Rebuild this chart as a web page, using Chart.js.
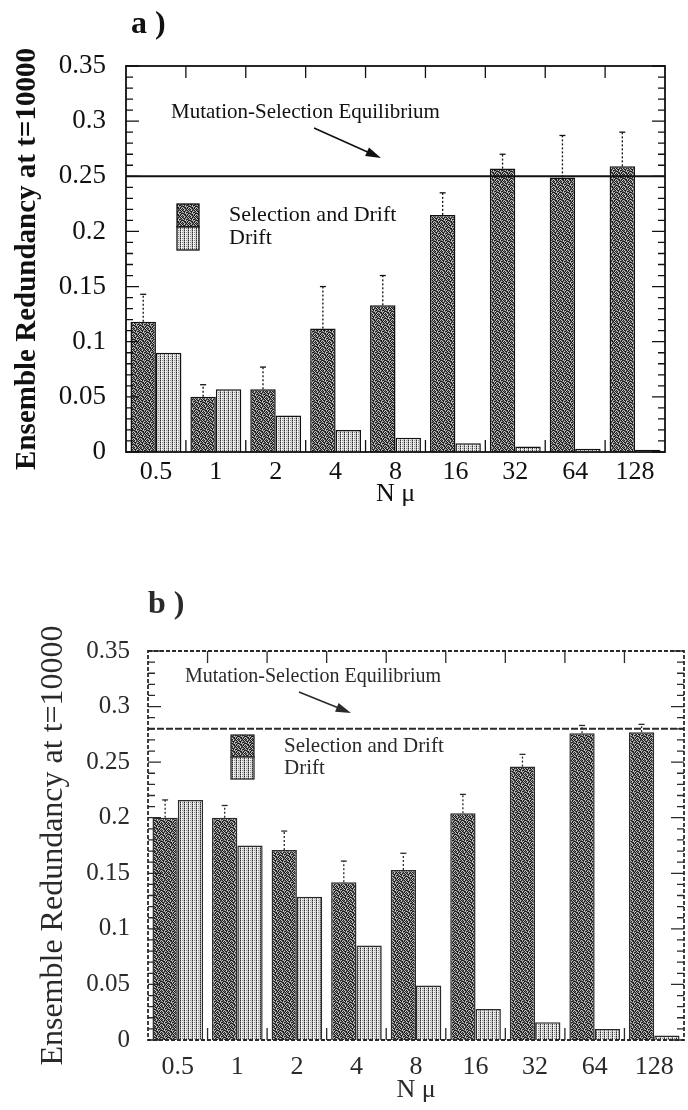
<!DOCTYPE html>
<html>
<head>
<meta charset="utf-8">
<script src="https://cdn.jsdelivr.net/npm/chart.js@4.4.1/dist/chart.umd.min.js"></script>
<style>
  html, body { margin: 0; padding: 0; background: #fff; }
  #wrap { position: relative; width: 688px; height: 1110px; overflow: hidden; }
  canvas { position: absolute; left: 0; }
  #chartA { top: 0; }
  #chartB { top: 530px; }
</style>
</head>
<body>
<div id="wrap">
  <canvas id="chartA" width="688" height="530"></canvas>
  <canvas id="chartB" width="688" height="580"></canvas>
</div>
<script>
const categories = ['0.5', '1', '2', '4', '8', '16', '32', '64', '128'];
const yTickValues = [0, 0.05, 0.1, 0.15, 0.2, 0.25, 0.3, 0.35];
const yTickLabels = ['0', '0.05', '0.1', '0.15', '0.2', '0.25', '0.3', '0.35'];
const seriesNames = ['Selection and Drift', 'Drift'];

// panel a
const selDriftA = [0.118, 0.050, 0.057, 0.112, 0.133, 0.215, 0.257, 0.249, 0.259];
const selDriftErrA = [0.143, 0.061, 0.077, 0.150, 0.160, 0.235, 0.270, 0.287, 0.290];
const driftA = [0.090, 0.057, 0.033, 0.020, 0.013, 0.008, 0.005, 0.003, 0.002];
const equilibriumA = 0.25;

// panel b
const selDriftB = [0.200, 0.200, 0.171, 0.142, 0.153, 0.204, 0.246, 0.276, 0.277];
const selDriftErrB = [0.216, 0.211, 0.188, 0.161, 0.168, 0.221, 0.257, 0.283, 0.284];
const driftB = [0.216, 0.175, 0.129, 0.085, 0.049, 0.028, 0.016, 0.010, 0.004];
const equilibriumB = 0.28;

const SERIF = "'Liberation Serif', 'DejaVu Serif', serif";

function makePattern(rows, colors) {
  const c = document.createElement('canvas');
  c.width = rows[0].length;
  c.height = rows.length;
  const g = c.getContext('2d');
  rows.forEach((r, yy) => [...r].forEach((ch, xx) => {
    g.fillStyle = colors[ch];
    g.fillRect(xx, yy, 1, 1);
  }));
  return g.createPattern(c, 'repeat');
}

// speckled dark fill and dotted light fill, like the printed screens
const darkFill = makePattern([
  'kgwkgkw',
  'wkkgwgk',
  'gwkwkkg',
  'kkgwgwk',
  'wgkkwkg',
  'kwgkgkw',
  'gkwgkwk'
], { k: '#1c1c1c', g: '#6a6a6a', w: '#c4c4c4' });
const lightFill = makePattern(['kwgl', 'gwwl', 'kwgl', 'gwwl'],
  { k: '#2a2a2a', g: '#8a8a8a', w: '#f2f2f2', l: '#d2d2d2' });

function arrow(ctx, x0, y0, x1, y1) {
  const ang = Math.atan2(y1 - y0, x1 - x0);
  ctx.beginPath();
  ctx.moveTo(x0, y0);
  ctx.lineTo(x1 - 8 * Math.cos(ang), y1 - 8 * Math.sin(ang));
  ctx.stroke();
  ctx.beginPath();
  ctx.moveTo(x1, y1);
  ctx.lineTo(x1 - 16 * Math.cos(ang - 0.3), y1 - 16 * Math.sin(ang - 0.3));
  ctx.lineTo(x1 - 16 * Math.cos(ang + 0.3), y1 - 16 * Math.sin(ang + 0.3));
  ctx.closePath();
  ctx.fill();
}

const decor = {
  id: 'decor',
  afterDatasetsDraw(chart, args, o) {
    const { ctx, chartArea: a, scales: { x, y } } = chart;
    ctx.save();
    ctx.strokeStyle = o.ink;
    ctx.fillStyle = o.ink;

    // equilibrium line
    const ye = y.getPixelForValue(o.equilibrium);
    ctx.lineWidth = 2;
    ctx.setLineDash(o.eqDash);
    ctx.beginPath();
    ctx.moveTo(a.left, ye);
    ctx.lineTo(a.right, ye);
    ctx.stroke();

    // error bars on selection+drift
    ctx.lineWidth = 1.3;
    ctx.setLineDash([2, 2]);
    chart.getDatasetMeta(0).data.forEach((bar, i) => {
      const top = y.getPixelForValue(o.errors[i]);
      ctx.beginPath();
      ctx.moveTo(bar.x, bar.y);
      ctx.lineTo(bar.x, top);
      ctx.stroke();
    });
    ctx.setLineDash([]);
    chart.getDatasetMeta(0).data.forEach((bar, i) => {
      const top = y.getPixelForValue(o.errors[i]);
      ctx.beginPath();
      ctx.moveTo(bar.x - 3, top);
      ctx.lineTo(bar.x + 3, top);
      ctx.stroke();
    });

    // frame
    ctx.lineWidth = 1.8;
    ctx.setLineDash(o.frameDash);
    ctx.strokeRect(a.left, a.top, a.right - a.left, a.bottom - a.top);
    ctx.setLineDash([]);

    // inward ticks on y (minor 0.01, major 0.05)
    ctx.lineWidth = 1.3;
    for (let k = 0; k <= 35; k++) {
      const py = y.getPixelForValue(k / 100);
      const len = k % 5 === 0 ? 13 : 7;
      ctx.beginPath();
      ctx.moveTo(a.left, py); ctx.lineTo(a.left + len, py);
      ctx.moveTo(a.right, py); ctx.lineTo(a.right - len, py);
      ctx.stroke();
    }
    // inward ticks on x at category boundaries
    for (let i = 0; i < categories.length - 1; i++) {
      const px = (x.getPixelForValue(i) + x.getPixelForValue(i + 1)) / 2;
      ctx.beginPath();
      ctx.moveTo(px, a.top); ctx.lineTo(px, a.top + 12);
      ctx.moveTo(px, a.bottom); ctx.lineTo(px, a.bottom - 12);
      ctx.stroke();
    }

    // annotation
    ctx.font = o.noteFont;
    ctx.textBaseline = 'middle';
    ctx.textAlign = 'left';
    ctx.fillText('Mutation-Selection Equilibrium', o.note[0], o.note[1]);
    ctx.lineWidth = 1.6;
    arrow(ctx, o.arrow[0], o.arrow[1], o.arrow[2], o.arrow[3]);

    // legend
    const [lx, ly, bw, bh] = o.legend;
    chart.data.datasets.forEach((ds, i) => {
      const by = ly + i * bh;
      ctx.fillStyle = ds.backgroundColor;
      ctx.fillRect(lx, by, bw, bh);
      ctx.strokeStyle = o.ink;
      ctx.lineWidth = 1.3;
      ctx.strokeRect(lx, by, bw, bh);
      ctx.fillStyle = o.ink;
      ctx.font = o.legendFont;
      ctx.fillText(ds.label, lx + bw + 30, by + bh / 2);
    });

    // panel label
    ctx.font = 'bold 32px ' + SERIF;
    ctx.fillText(o.panel, o.panelPos[0], o.panelPos[1]);
    ctx.restore();
  }
};

function buildChart(id, sd, drift, o) {
  return new Chart(document.getElementById(id), {
    type: 'bar',
    data: {
      labels: categories,
      datasets: [
        { label: seriesNames[0], data: sd, backgroundColor: darkFill,
          borderColor: o.ink, borderWidth: 1.5, borderSkipped: 'start' },
        { label: seriesNames[1], data: drift, backgroundColor: lightFill,
          borderColor: o.ink, borderWidth: 1.5, borderSkipped: 'start' }
      ]
    },
    options: {
      responsive: false,
      animation: false,
      devicePixelRatio: 1,
      layout: { padding: { left: 0, top: o.top, right: o.right, bottom: 0 } },
      datasets: { bar: { categoryPercentage: 0.85, barPercentage: 1.0 } },
      plugins: {
        legend: { display: false },
        tooltip: { enabled: false },
        decor: o
      },
      scales: {
        x: {
          offset: true,
          grid: { display: false, drawTicks: false },
          border: { display: false },
          ticks: { color: o.ink, padding: o.xPad, font: { family: SERIF, size: 26 } },
          title: { display: true, text: 'N μ', color: o.ink,
                   font: { family: SERIF, size: 26 }, padding: { top: 0, bottom: o.xTitlePad } },
          afterFit: s => { s.height = o.xHeight; }
        },
        y: {
          min: 0, max: 0.35,
          grid: { display: false, drawTicks: false },
          border: { display: false },
          afterBuildTicks: s => { s.ticks = yTickValues.map(v => ({ value: v })); },
          ticks: { color: o.ink, padding: o.yPad, font: { family: SERIF, size: o.yFont },
                   callback: (v, i) => yTickLabels[i] },
          title: { display: true, text: 'Ensemble Redundancy at t=10000', color: o.ink,
                   font: { family: SERIF, size: o.titleSize, weight: o.titleWeight },
                   padding: { top: o.yTitlePad, bottom: 0 } },
          afterFit: s => { s.width = o.left; }
        }
      }
    },
    plugins: [decor]
  });
}

buildChart('chartA', selDriftA, driftA, {
  ink: '#111', left: 126, top: 66, right: 23, xHeight: 78,
  xPad: 5, xTitlePad: 20, yPad: 20, yFont: 27, yTitlePad: 10,
  titleSize: 29, titleWeight: 'bold',
  equilibrium: equilibriumA, errors: selDriftErrA, eqDash: [], frameDash: [],
  note: [171, 112], noteFont: '21px ' + SERIF, arrow: [314, 128, 381, 158],
  legend: [177, 204, 22, 23], legendFont: '22px ' + SERIF,
  panel: 'a )', panelPos: [131, 25]
});

buildChart('chartB', selDriftB, driftB, {
  ink: '#2a2a2a', left: 148, top: 121, right: 4, xHeight: 70,
  xPad: 12, xTitlePad: 4, yPad: 18, yFont: 25, yTitlePad: 34,
  titleSize: 32, titleWeight: 'normal',
  equilibrium: equilibriumB, errors: selDriftErrB, eqDash: [7, 2], frameDash: [4, 2],
  note: [185, 147], noteFont: '20px ' + SERIF, arrow: [299, 162, 351, 183],
  legend: [231, 205, 23, 22], legendFont: '21px ' + SERIF,
  panel: 'b )', panelPos: [148, 75]
});
</script>
</body>
</html>
